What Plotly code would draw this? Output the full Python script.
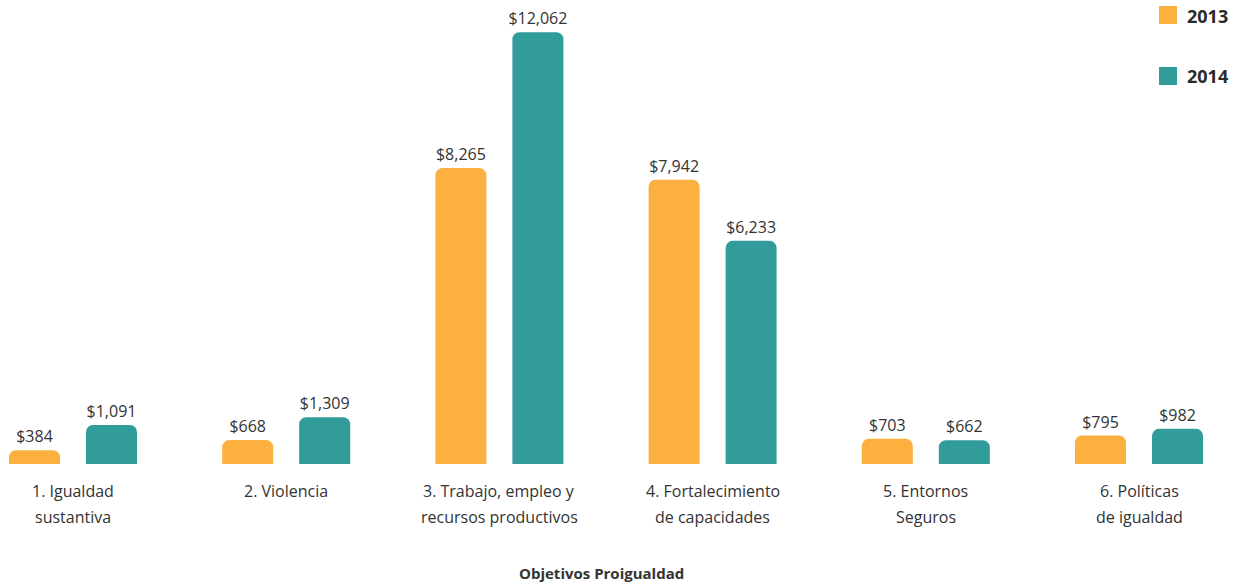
import plotly.graph_objects as go

# Budget by Proigualdad objective (millions of pesos)
categories = [
    "1. Igualdad<br>sustantiva",
    "2. Violencia",
    "3. Trabajo, empleo y<br>recursos productivos",
    "4. Fortalecimiento<br>de capacidades",
    "5. Entornos<br>Seguros",
    "6. Políticas<br>de igualdad",
]
years = ["2013", "2014"]
values_2013 = [384, 668, 8265, 7942, 703, 795]
values_2014 = [1091, 1309, 12062, 6233, 662, 982]

colors = ["#FBB040", "#329C9A"]
text_color = "#333333"
font_family = "Open Sans, Lato, sans-serif"

W, H = 1239, 583
plot_bottom = 464          # pixel row of the bar baseline
px_per_unit = 0.0358       # vertical scale
ymax = plot_bottom / px_per_unit

# horizontal layout: first category centre at 73 px, step ~213 px
step_px = 213.2
first_px = 73
x_lo = -first_px / step_px
x_hi = (W - first_px) / step_px

bar_w = 51 / step_px
half_sep = 38.5 / step_px

fig = go.Figure()
idx = list(range(len(categories)))
for name, vals, col, sign in [(years[0], values_2013, colors[0], -1),
                              (years[1], values_2014, colors[1], 1)]:
    fig.add_trace(go.Bar(
        x=idx, y=vals, name=name,
        marker=dict(color=col, line=dict(width=0)),
        width=bar_w,
        offset=sign * half_sep - bar_w / 2,
        text=[f"${v:,}" for v in vals],
        textposition="outside",
        constraintext="none",
        textfont=dict(family=font_family, size=16, color=text_color),
        cliponaxis=False,
        showlegend=False,
    ))

annotations = []
# category labels, one annotation per line for wider line spacing
for i, lab in enumerate(categories):
    for j, line in enumerate(lab.split("<br>")):
        annotations.append(dict(
            x=i, y=0, xref="x", yref="y", text=line, showarrow=False,
            xanchor="center", yanchor="middle", yshift=-(27 + 26 * j),
            font=dict(family=font_family, size=16, color=text_color),
        ))

# axis title
annotations.append(dict(
    x=601.5 / W, xref="paper", y=0, yref="y", yshift=-(573 - plot_bottom),
    text="<b>Objetivos Proigualdad</b>", showarrow=False,
    xanchor="center", yanchor="middle",
    font=dict(family=font_family, size=15, color=text_color),
))

# legend: coloured squares with bold year labels
shapes = []
for k, (name, col) in enumerate(zip(years, colors)):
    top = 6 + 61 * k
    shapes.append(dict(
        type="rect", xref="paper", yref="paper",
        x0=1159 / W, x1=1177 / W,
        y0=1 - (top + 18) / plot_bottom, y1=1 - top / plot_bottom,
        fillcolor=col, line=dict(width=0),
    ))
    annotations.append(dict(
        x=1185 / W, xref="paper", y=1 - (top + 9.5) / plot_bottom, yref="paper",
        text=f"<b>{name}</b>", showarrow=False, xanchor="left", yanchor="middle",
        font=dict(family=font_family, size=18, color="#2a2a2a"),
    ))

fig.update_layout(
    width=W, height=H,
    margin=dict(l=0, r=0, t=0, b=H - plot_bottom),
    paper_bgcolor="white", plot_bgcolor="white",
    barmode="overlay",
    barcornerradius=7,
    xaxis=dict(range=[x_lo, x_hi], showticklabels=False, showgrid=False,
               zeroline=False, showline=False, ticks=""),
    yaxis=dict(range=[0, ymax], visible=False, showgrid=False, zeroline=False),
    annotations=annotations,
    shapes=shapes,
)

fig.write_html("out.html")
